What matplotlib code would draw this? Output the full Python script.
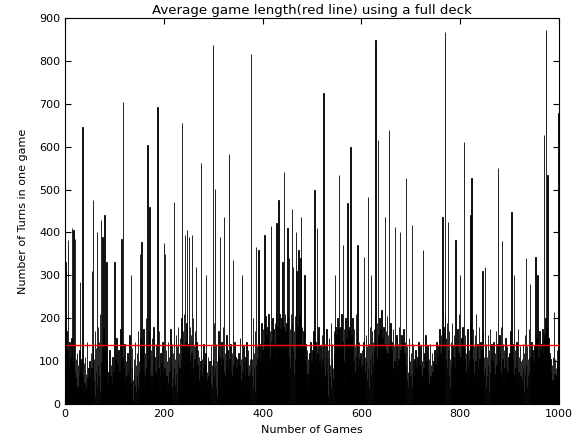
import numpy as np
import matplotlib
matplotlib.use('Agg')
import matplotlib.pyplot as plt

# number of turns for each game (1000 games)
turns = [
    175, 330, 65, 170, 40, 125, 383, 85, 30, 145, 65, 110, 20, 155, 410, 100, 50, 405, 140, 75, 385, 60, 105, 30, 120,
    40, 90, 18, 65, 125, 285, 75, 30, 105, 45, 645, 65, 15, 95, 50, 110, 20, 70, 40, 145, 60, 25, 85, 50, 100,
    65, 30, 120, 85, 310, 45, 140, 475, 55, 105, 20, 170, 75, 130, 400, 40, 180, 90, 65, 145, 30, 210, 428, 100, 50,
    125, 390, 40, 175, 85, 440, 25, 140, 65, 330, 105, 50, 18, 75, 40, 125, 30, 65, 90, 15, 50, 110, 35, 75, 60,
    330, 50, 105, 30, 155, 65, 90, 40, 125, 20, 75, 50, 175, 100, 385, 65, 110, 705, 85, 40, 140, 55, 25, 100, 65,
    40, 120, 75, 18, 65, 160, 100, 50, 300, 30, 85, 130, 55, 10, 105, 70, 145, 45, 90, 30, 120, 65, 40, 170, 75,
    100, 350, 55, 155, 30, 377, 90, 135, 40, 175, 75, 20, 120, 65, 200, 85, 140, 603, 50, 105, 170, 460, 70, 40, 125,
    65, 155, 30, 90, 180, 50, 110, 20, 75, 140, 60, 105, 693, 40, 85, 170, 30, 65, 120, 18, 95, 55, 145, 75, 45,
    375, 85, 350, 40, 125, 65, 100, 20, 145, 50, 110, 75, 30, 175, 65, 90, 140, 40, 120, 60, 85, 471, 105, 45, 160,
    70, 135, 30, 100, 180, 55, 120, 85, 155, 40, 105, 200, 654, 75, 170, 135, 210, 90, 395, 145, 105, 190, 405, 125, 85,
    140, 390, 100, 180, 65, 160, 120, 395, 85, 200, 40, 135, 105, 170, 70, 320, 145, 35, 90, 125, 55, 110, 30, 75, 100,
    561, 65, 105, 30, 85, 140, 50, 90, 18, 120, 300, 55, 75, 30, 110, 65, 40, 100, 20, 80, 50, 135, 40, 90, 837,
    105, 65, 190, 85, 502, 40, 140, 100, 20, 125, 70, 170, 50, 110, 390, 30, 90, 145, 60, 105, 180, 75, 435, 65, 120,
    40, 100, 160, 65, 125, 30, 85, 584, 105, 50, 140, 75, 20, 120, 65, 335, 90, 40, 145, 70, 110, 50, 85, 30, 105,
    65, 120, 35, 90, 155, 55, 105, 25, 300, 75, 40, 135, 100, 18, 70, 110, 50, 145, 85, 30, 125, 65, 90, 40, 105,
    75, 817, 140, 65, 105, 200, 40, 120, 85, 170, 30, 90, 367, 135, 55, 105, 70, 360, 160, 100, 40, 140, 85, 190, 65,
    125, 175, 90, 145, 395, 105, 205, 70, 160, 120, 180, 85, 210, 135, 55, 170, 110, 415, 145, 90, 200, 120, 175, 75, 140,
    190, 100, 220, 423, 140, 180, 85, 475, 160, 210, 120, 175, 65, 200, 145, 330, 105, 180, 541, 135, 210, 170, 90, 190, 125,
    410, 155, 205, 110, 340, 175, 85, 210, 140, 455, 190, 125, 320, 70, 170, 205, 105, 400, 160, 310, 90, 180, 140, 360, 120,
    205, 145, 340, 435, 105, 180, 135, 75, 170, 120, 300, 55, 140, 90, 40, 125, 70, 105, 30, 85, 120, 65, 145, 40, 100,
    75, 125, 40, 170, 90, 500, 65, 145, 105, 30, 410, 120, 70, 180, 50, 100, 20, 135, 85, 55, 160, 105, 40, 725, 85,
    65, 140, 30, 100, 175, 75, 50, 125, 20, 110, 155, 65, 90, 40, 190, 105, 140, 60, 85, 170, 120, 300, 75, 180, 135,
    160, 100, 200, 125, 175, 534, 140, 85, 180, 110, 210, 65, 145, 370, 100, 175, 40, 135, 200, 90, 155, 120, 468, 70, 170,
    105, 180, 65, 600, 125, 160, 85, 200, 140, 100, 175, 40, 135, 75, 210, 110, 155, 370, 90, 55, 145, 105, 30, 120, 85,
    65, 125, 90, 35, 145, 342, 75, 110, 20, 100, 160, 55, 135, 85, 483, 140, 40, 105, 180, 300, 70, 120, 170, 90, 145,
    125, 175, 75, 210, 848, 140, 110, 190, 100, 615, 160, 135, 200, 85, 175, 120, 220, 65, 155, 105, 180, 90, 140, 437, 125,
    170, 100, 205, 120, 160, 75, 638, 140, 105, 190, 65, 145, 125, 85, 175, 50, 135, 100, 413, 70, 110, 160, 40, 90, 140,
    105, 180, 65, 400, 125, 85, 160, 40, 140, 100, 175, 70, 120, 30, 145, 527, 90, 55, 135, 75, 40, 110, 155, 65, 100,
    70, 120, 418, 40, 100, 140, 65, 20, 105, 75, 125, 50, 85, 30, 110, 65, 145, 40, 90, 55, 135, 75, 30, 100, 65,
    360, 85, 40, 120, 70, 160, 55, 100, 20, 135, 75, 50, 105, 30, 140, 65, 90, 40, 120, 75, 35, 100, 65, 125, 50,
    90, 40, 145, 70, 110, 30, 135, 85, 175, 55, 120, 160, 75, 140, 437, 100, 180, 65, 125, 210, 868, 105, 155, 85, 190,
    425, 125, 65, 170, 105, 40, 145, 90, 190, 70, 135, 30, 110, 160, 85, 55, 382, 100, 140, 50, 175, 75, 120, 210, 90,
    300, 110, 65, 155, 90, 180, 50, 135, 611, 105, 160, 75, 120, 30, 140, 175, 85, 55, 125, 100, 190, 440, 110, 526, 145,
    105, 175, 70, 135, 40, 160, 100, 210, 65, 120, 140, 85, 30, 180, 105, 55, 145, 90, 125, 50, 310, 100, 170, 70, 110,
    320, 85, 140, 40, 110, 65, 160, 90, 30, 125, 75, 175, 50, 105, 140, 20, 100, 65, 145, 85, 40, 120, 70, 170, 90,
    65, 140, 550, 100, 55, 160, 120, 75, 180, 40, 380, 105, 140, 30, 125, 85, 65, 155, 100, 50, 135, 75, 35, 110, 90,
    120, 65, 170, 90, 448, 40, 140, 105, 70, 300, 55, 125, 85, 30, 145, 100, 50, 175, 75, 110, 20, 135, 65, 100, 40,
    105, 55, 140, 85, 30, 120, 70, 160, 340, 90, 40, 135, 105, 65, 175, 75, 280, 50, 110, 20, 145, 85, 125, 40, 100,
    70, 135, 90, 343, 50, 155, 105, 300, 65, 110, 30, 170, 85, 125, 40, 140, 100, 175, 75, 120, 627, 160, 105, 200, 872,
    180, 125, 533, 100, 155, 65, 120, 40, 105, 75, 30, 90, 55, 110, 50, 215, 70, 105, 40, 85, 65, 125, 100, 140, 678,
]
games = np.arange(len(turns))
avg = np.mean(turns)

plt.rcParams['font.size'] = 8
fig = plt.figure(figsize=(5.87, 4.48), dpi=100)
ax = fig.add_axes([0.111, 0.098, 0.841, 0.862])

ax.bar(games, turns, width=0.8, color='k', edgecolor='k', linewidth=0.6)
ax.axhline(avg, color='r', linewidth=1)

ax.set_xlim(0, 1000)
ax.set_ylim(0, 900)
ax.set_xticks(range(0, 1001, 200))
ax.set_yticks(range(0, 901, 100))
ax.tick_params(direction='in', top=True, right=True, length=4)

ax.set_title('Average game length(red line) using a full deck', fontsize=9.6, pad=3)
ax.set_xlabel('Number of Games')
ax.set_ylabel('Number of Turns in one game', labelpad=8)

fig.savefig('out.png', dpi=100, facecolor='white')
